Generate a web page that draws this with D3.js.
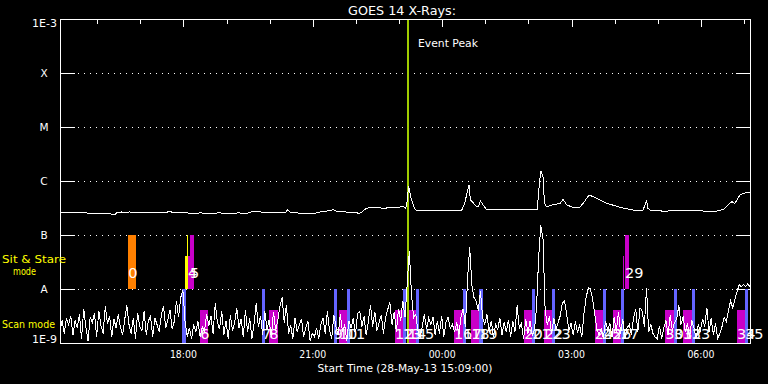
<!DOCTYPE html>
<html><head><meta charset="utf-8">
<script src="https://cdn.jsdelivr.net/npm/d3@7"></script>
<style>
html,body{margin:0;padding:0;background:#000;}
svg{display:block;}
text{font-family:"DejaVu Sans",sans-serif;}
</style>
</head><body>
<svg id="chart" width="768" height="384"></svg>
<script>
// ---------------- data ----------------
const title = "GOES 14 X-Rays:";
const startLabel = "Start Time (28-May-13 15:09:00)";
const startTime = "15:09";
const endTime = "07:09";
const eventPeak = "23:13";
const eventLabel = "Event Peak";

const levelValues = [1e-3, 1e-4, 1e-5, 1e-6, 1e-7, 1e-8, 1e-9];
const levelLabels = ["1E-3", "X", "M", "C", "B", "A", "1E-9"];
const gridLevels = [1e-4, 1e-5, 1e-6, 1e-7, 1e-8];
const timeLabels = ["18:00", "21:00", "00:00", "03:00", "06:00"];

// GOES long channel (1-8 A), W/m^2
const longTimes = ["15:09","15:44","15:48","16:19","16:20","16:26","16:28","16:35","16:39","16:46","16:53","17:00","17:28","17:39","17:42","17:45","18:03","18:10","18:24","18:45","18:52","18:54","19:19","19:26","19:31","19:37","19:47","19:51","20:22","20:26","20:29","20:43","21:04","21:11","21:20","21:29","21:33","21:45","22:02","22:04","22:09","22:15","22:20","22:34","22:38","22:48","23:02","23:07","23:10","23:12","23:14","23:18","23:23","23:26","23:58","00:18","00:28","00:32","00:38","00:40","00:49","00:51","00:54","01:00","01:02","01:35","02:13","02:16","02:18","02:21","02:23","02:26","02:33","02:45","02:49","02:54","03:03","03:12","03:17","03:25","03:36","03:50","04:08","04:26","04:40","04:43","04:45","04:47","04:50","05:04","05:08","05:22","05:59","06:04","06:23","06:32","06:41","06:44","06:48","06:55","07:04","07:09"];
const longFlux = [2.63e-7,2.63e-7,2.52e-7,2.52e-7,2.42e-7,2.42e-7,2.59e-7,2.67e-7,2.59e-7,2.67e-7,2.59e-7,2.56e-7,2.56e-7,2.67e-7,2.75e-7,2.63e-7,2.59e-7,2.52e-7,2.56e-7,2.52e-7,2.63e-7,2.52e-7,2.56e-7,2.48e-7,2.56e-7,2.75e-7,2.75e-7,2.56e-7,2.56e-7,2.94e-7,2.67e-7,2.52e-7,2.52e-7,2.67e-7,2.78e-7,2.94e-7,2.78e-7,2.67e-7,2.63e-7,2.48e-7,2.67e-7,3.12e-7,3.20e-7,3.20e-7,3.12e-7,3.20e-7,3.30e-7,3.34e-7,3.12e-7,4.14e-7,8.1e-7,4.45e-7,2.99e-7,2.84e-7,2.84e-7,2.86e-7,2.90e-7,3.86e-7,8.43e-7,4.45e-7,3.34e-7,3.34e-7,4.26e-7,3.26e-7,2.99e-7,2.94e-7,2.99e-7,9.07e-7,1.53e-6,1.20e-6,3.96e-7,3.34e-7,3.59e-7,3.86e-7,4.58e-7,3.59e-7,3.26e-7,3.26e-7,3.86e-7,5.51e-7,4.78e-7,3.86e-7,3.26e-7,2.90e-7,2.90e-7,3.59e-7,4.45e-7,3.12e-7,2.90e-7,2.90e-7,2.67e-7,2.90e-7,2.90e-7,2.78e-7,2.78e-7,2.99e-7,3.86e-7,4.14e-7,3.86e-7,5.51e-7,6.18e-7,6.18e-7];

// GOES short channel (0.5-4 A), one sample every 3 min from start, units of 1e-9 W/m^2
const shortCadenceMin = 3;
const shortUnit = 1e-9;
const shortFlux = [
1.7,2.6,1.5,2.9,2.2,3.2,1.4,2.6,1.9,3.4,
1.2,4.3,2.0,1.1,3.0,2.4,3.6,1.3,3.9,2.1,
1.5,4.8,2.3,3.1,1.3,2.8,1.9,3.4,2.0,1.4,
2.7,5.0,2.2,1.5,2.9,1.2,3.6,2.0,1.7,3.9,
1.4,2.6,3.1,1.3,2.9,2.2,1.6,3.3,4.8,1.9,
2.7,4.1,1.8,2.5,6.0,3.0,7.0,9.5,2.5,1.3,
1.9,1.2,2.2,1.6,2.5,1.3,2.0,1.6,3.5,2.1,
3.2,1.5,5.4,2.4,1.8,3.9,1.4,2.6,1.2,3.3,
1.7,2.4,4.4,1.9,2.8,1.3,4.1,1.6,2.9,1.2,
2.3,5.4,2.0,3.2,1.4,3.9,1.8,2.7,1.3,3.8,
1.7,2.6,4.8,7.0,2.4,5.0,1.5,2.1,1.2,2.9,
1.6,2.2,2.8,1.3,1.9,2.5,1.1,1.5,1.3,1.9,
1.2,2.2,2.9,1.5,3.9,1.7,1.2,3.3,2.0,1.4,
3.4,1.6,2.2,1.1,2.6,1.9,2.9,1.4,3.5,3.9,
2.0,3.1,1.4,2.5,5.1,2.0,3.8,1.7,2.4,3.3,
1.5,2.9,4.2,5.6,2.2,3.8,1.6,4.3,2.6,6.1,
3.0,12,50,8,2.9,3.4,1.7,1.3,2.0,3.4,
1.8,2.9,2.2,3.0,1.4,2.6,1.5,3.2,1.3,2.4,
3.0,1.9,2.2,1.6,2.4,1.4,3.1,4.3,2.0,15,
60,12,7,6,4,9,3,2.2,3.4,1.6,
2.6,1.3,2.2,1.8,2.9,1.4,2.4,1.6,2.7,1.3,
2.5,1.6,5.0,1.9,2.3,1.2,2.8,1.5,2.6,1.4,
1.7,4.5,40,150,85,4,2.2,3.1,1.5,2.9,
1.8,2.4,3.2,5.5,6.0,3.3,1.7,2.3,1.4,2.5,
1.6,2.1,1.3,3.5,7,10.5,10,6.5,3.5,1.8,
1.4,1.9,1.2,2.6,1.7,2.3,1.3,3.0,1.6,3.8,
1.5,2.8,1.2,1.9,2.2,1.4,2.9,4.2,1.6,4.5,
3.9,2.0,10.5,1.6,2.2,1.5,1.3,1.2,2.1,1.2,
1.9,2.6,1.4,3.3,1.7,2.4,2.8,5,2.2,3.1,
1.6,2.3,1.3,2.6,1.9,1.2,2.2,1.7,2.8,2.0,
4.5,1.6,2.9,1.4,2.3,1.2,1.5,2.0,3.0,2.5,
4,6,4.5,6.5,9,12,11,12,11,12.5,11];

// Sit & Stare observations (drawn between A and B)
const ssStart = ["16:44","18:03","18:05","18:07","18:10","04:12","04:15"];
const ssEnd   = ["16:55","18:07","18:07","18:15","18:15","04:13","04:20"];
const ssTop   = [1e-7, 4.1e-8, 1e-7, 4.1e-8, 1e-7, 4.1e-8, 1e-7];
const ssColor = ["orange","yellow","yellow","magenta","magenta","magenta","magenta"];
const ssLabel = ["0","4","","","5","","29"];

// Scan mode observations (drawn between 1E-9 and A)
const scanStart = ["17:59","18:24","19:50","20:00","21:30","21:37","21:48","22:55","23:06","23:13","23:24","00:17","00:30","00:41","00:52","01:55","02:06","02:23","02:34","03:33","03:44","03:58","04:09","05:11","05:23","05:36","05:48","06:51","07:02"];
const scanEnd   = ["18:04","18:35","19:54","20:12","21:34","21:48","21:52","23:06","23:10","23:24","23:28","00:30","00:34","00:52","00:57","02:06","02:10","02:34","02:38","03:44","03:49","04:09","04:14","05:23","05:27","05:48","05:52","07:02","07:06"];
const scanType  = ["blue","magenta","blue","magenta","blue","magenta","blue","magenta","blue","magenta","blue","magenta","blue","magenta","blue","magenta","blue","magenta","blue","magenta","blue","magenta","blue","magenta","blue","magenta","blue","magenta","blue"];
const scanLabel = ["","6","7","8","9","10","11","12","13","14","15","16","17","18","19","20","21","22","23","24","25","26","27","30","31","32","33","34","35"];

// ---------------- styles ----------------
const palette = {orange:"#ff8000", yellow:"#ffff00", magenta:"#c800c8", blue:"#6464ff"};
const scanTop = {blue:1e-8, magenta:4.1e-9};
const eventColor = "#a0cc00";

// ---------------- helpers ----------------
function parseHM(hm) {
  const [h, m] = hm.split(":").map(Number);
  return new Date(2013, 4, h >= 15 ? 28 : 29, h, m);
}

const svg = d3.select("#chart");
svg.append("rect").attr("width",768).attr("height",384).attr("fill","#000");

const L = 60, R = 750, T = 19, B = 343;
const x = d3.scaleTime().domain([parseHM(startTime), parseHM(endTime)]).range([L, R]);
const y = d3.scaleLog().domain([1e-9, 1e-3]).range([B, T]);

svg.append("defs").append("clipPath").attr("id","clip")
  .append("rect").attr("x",L).attr("y",T).attr("width",R-L+1).attr("height",B-T+1);

// grid (dotted) + side ticks
const grid = svg.append("g").attr("shape-rendering","crispEdges");
gridLevels.forEach(v => {
  const yy = Math.round(y(v)) + 0.5;
  grid.append("line").attr("x1",78).attr("x2",736).attr("y1",yy).attr("y2",yy)
    .attr("stroke","#fff").attr("stroke-width",1).attr("stroke-dasharray","1,5");
  grid.append("line").attr("x1",L).attr("x2",L+15).attr("y1",yy).attr("y2",yy)
    .attr("stroke","#fff").attr("stroke-width",1);
  grid.append("line").attr("x1",R-14).attr("x2",R).attr("y1",yy).attr("y2",yy)
    .attr("stroke","#fff").attr("stroke-width",1);
});

// bars
const bars = svg.append("g").attr("clip-path","url(#clip)").attr("shape-rendering","crispEdges");
ssStart.forEach((s, i) => {
  const x0 = x(parseHM(s)), x1 = x(parseHM(ssEnd[i]));
  bars.append("rect").attr("x",x0).attr("width",Math.max(1,x1-x0))
    .attr("y",y(ssTop[i])).attr("height",y(1e-8)-y(ssTop[i]))
    .attr("fill",palette[ssColor[i]]);
});
scanStart.forEach((s, i) => {
  const x0 = x(parseHM(s)), x1 = x(parseHM(scanEnd[i]));
  const top = scanTop[scanType[i]];
  bars.append("rect").attr("x",x0).attr("width",Math.max(1,x1-x0))
    .attr("y",y(top)).attr("height",y(1e-9)-y(top))
    .attr("fill",palette[scanType[i]]);
});

// event peak line
const ex = Math.round(x(parseHM(eventPeak)));
svg.append("rect").attr("x",ex-1).attr("y",T).attr("width",2).attr("height",B-T).attr("fill",eventColor);
svg.append("text").attr("x",ex+10).attr("y",47).attr("fill","#fff")
  .attr("font-size","10.5px").attr("textLength",60).attr("lengthAdjust","spacingAndGlyphs").text(eventLabel);

// traces
const traces = svg.append("g").attr("clip-path","url(#clip)");
const longData = longTimes.map((t, i) => ({t: parseHM(t), v: longFlux[i]}));
const t0 = parseHM(startTime);
const shortData = shortFlux.map((v, i) => ({t: d3.timeMinute.offset(t0, i*shortCadenceMin), v: v*shortUnit}));
const line = d3.line().x(d => x(d.t)).y(d => y(d.v));
traces.append("path").datum(longData).attr("d",line).attr("fill","none").attr("stroke","#fff").attr("stroke-width",1).attr("shape-rendering","crispEdges");
traces.append("path").datum(shortData).attr("d",line).attr("fill","none").attr("stroke","#fff").attr("stroke-width",1).attr("shape-rendering","crispEdges");

// bar labels
const labels = svg.append("g").attr("fill","#fff").attr("font-size","14.5px");
ssStart.forEach((s, i) => {
  if (!ssLabel[i]) return;
  labels.append("text").attr("x",x(parseHM(s)) + (ssLabel[i]==="4" ? 3 : 0)).attr("y",y(1e-8)-11).text(ssLabel[i]);
});
scanStart.forEach((s, i) => {
  if (!scanLabel[i]) return;
  labels.append("text").attr("x",x(parseHM(s))).attr("y",B-4).text(scanLabel[i]);
});

// frame
svg.append("rect").attr("x",L+0.5).attr("y",T+0.5).attr("width",R-L).attr("height",B-T)
  .attr("fill","none").attr("stroke","#fff").attr("stroke-width",1).attr("shape-rendering","crispEdges");

// top ticks (hourly minor, 3-hourly major)
const topMinor = svg.append("g").attr("transform",`translate(0.5,${T+0.5})`)
  .call(d3.axisTop(x).ticks(d3.timeHour.every(1)).tickSize(-4).tickFormat(""));
const topMajor = svg.append("g").attr("transform",`translate(0.5,${T+0.5})`)
  .call(d3.axisTop(x).tickValues(timeLabels.map(parseHM)).tickSize(-7).tickFormat(""));
[topMinor, topMajor].forEach(g => { g.select(".domain").remove(); g.selectAll("line").attr("stroke","#fff").attr("shape-rendering","crispEdges"); });

// bottom time labels
const bottom = svg.append("g").attr("transform",`translate(0,${B})`)
  .call(d3.axisBottom(x).tickValues(timeLabels.map(parseHM)).tickSize(0).tickPadding(8).tickFormat(d3.timeFormat("%H:%M")));
bottom.select(".domain").remove();
bottom.selectAll("text").attr("fill","#fff").attr("font-size","10.5px")
  .attr("font-family","DejaVu Sans").attr("textLength",27).attr("lengthAdjust","spacingAndGlyphs");

// y level labels
levelValues.forEach((v, i) => {
  const lab = levelLabels[i];
  const t = svg.append("text").attr("fill","#fff").attr("font-size","10.5px").attr("dy","0.36em").text(lab);
  if (lab.length > 1) {
    const off = i === 0 ? 4 : -4;
    t.attr("x",57).attr("y",y(v)+off).attr("text-anchor","end").attr("textLength",25).attr("lengthAdjust","spacingAndGlyphs");
  } else {
    t.attr("x",44).attr("y",y(v)).attr("text-anchor","middle");
  }
});

// mode labels
svg.append("text").attr("x",2).attr("y",263).attr("fill","#ffff00").attr("font-size","10.5px")
  .attr("textLength",64).attr("lengthAdjust","spacingAndGlyphs").text("Sit & Stare");
svg.append("text").attr("x",13).attr("y",275).attr("fill","#ffff00").attr("font-size","10.5px")
  .attr("textLength",23).attr("lengthAdjust","spacingAndGlyphs").text("mode");
svg.append("text").attr("x",2).attr("y",328).attr("fill","#ffff00").attr("font-size","10.5px")
  .attr("textLength",53).attr("lengthAdjust","spacingAndGlyphs").text("Scan mode");

// title and x caption
svg.append("text").attr("x",402).attr("y",15).attr("text-anchor","middle").attr("fill","#fff")
  .attr("font-size","12px").attr("textLength",108).attr("lengthAdjust","spacingAndGlyphs").text(title);
svg.append("text").attr("x",405).attr("y",372).attr("text-anchor","middle").attr("fill","#fff")
  .attr("font-size","10.5px").attr("textLength",175).attr("lengthAdjust","spacingAndGlyphs").text(startLabel);
</script>
</body></html>
